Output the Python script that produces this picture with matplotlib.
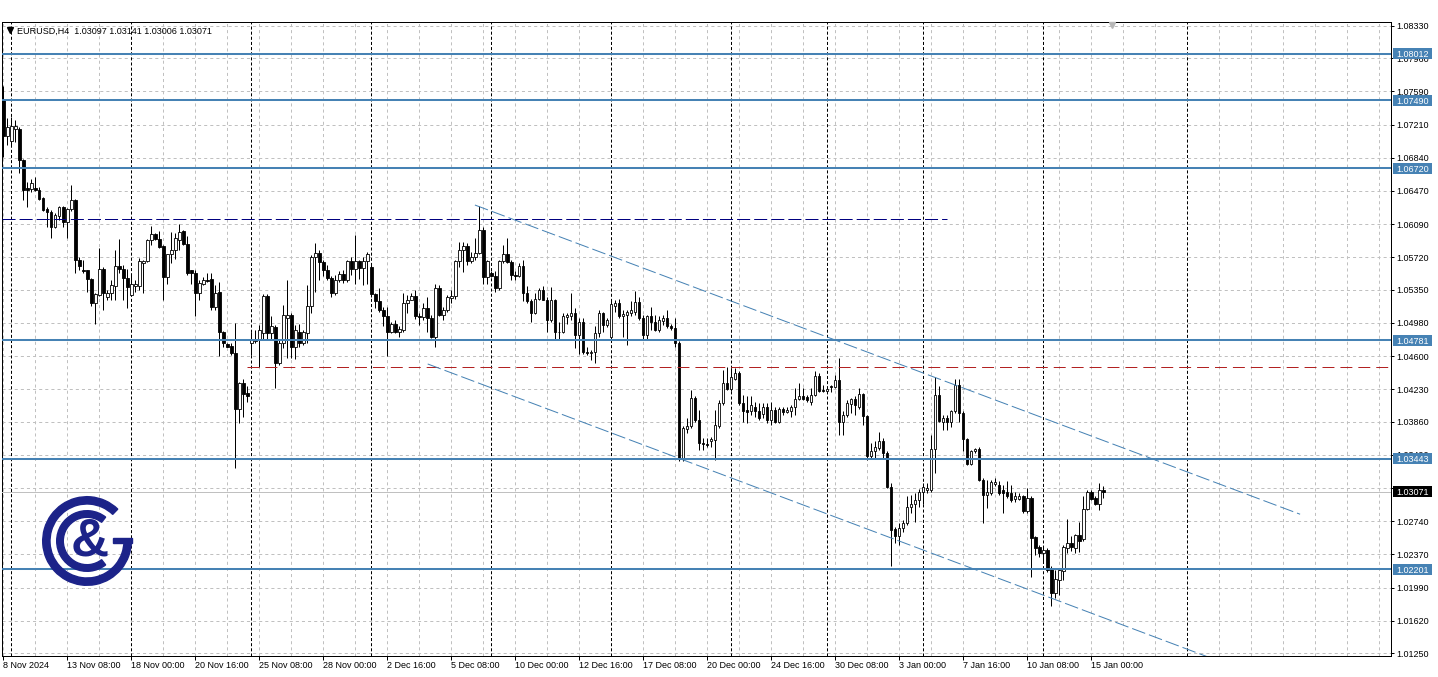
import matplotlib
matplotlib.use("Agg")
import matplotlib.pyplot as plt  # noqa: E402
import numpy as np  # noqa: E402
from matplotlib.patches import Wedge, Rectangle  # noqa: E402

# EURUSD H4 candles, 8 Nov 2024 16:00 .. 15 Jan 2025 12:00
opens = [
    1.0749, 1.0708, 1.0703, 1.0717, 1.0717, 1.0682, 1.0650, 1.0649, 1.0650, 1.0648,
    1.0639, 1.0626, 1.0623, 1.0606, 1.0618, 1.0628, 1.0612, 1.0626, 1.0636, 1.0569,
    1.0557, 1.0557, 1.0547, 1.0520, 1.0529, 1.0559, 1.0527, 1.0531, 1.0539, 1.0562,
    1.0558, 1.0548, 1.0529, 1.0539, 1.0539, 1.0565, 1.0567, 1.0591, 1.0598, 1.0592,
    1.0584, 1.0549, 1.0576, 1.0580, 1.0591, 1.0601, 1.0587, 1.0557, 1.0554, 1.0531,
    1.0542, 1.0546, 1.0547, 1.0516, 1.0533, 1.0488, 1.0474, 1.0472, 1.0464, 1.0401,
    1.0430, 1.0419, 1.0475, 1.0477, 1.0479, 1.0486, 1.0528, 1.0486, 1.0493, 1.0452,
    1.0475, 1.0503, 1.0507, 1.0471, 1.0488, 1.0475, 1.0486, 1.0517, 1.0572, 1.0577,
    1.0566, 1.0557, 1.0548, 1.0531, 1.0546, 1.0553, 1.0546, 1.0567, 1.0558, 1.0568,
    1.0560, 1.0567, 1.0561, 1.0530, 1.0522, 1.0512, 1.0505, 1.0487, 1.0497, 1.0488,
    1.0490, 1.0520, 1.0524, 1.0528, 1.0505, 1.0504, 1.0514, 1.0503, 1.0482, 1.0537,
    1.0507, 1.0512, 1.0526, 1.0528, 1.0567, 1.0580, 1.0584, 1.0567, 1.0572, 1.0577,
    1.0603, 1.0550, 1.0554, 1.0551, 1.0537, 1.0567, 1.0576, 1.0566, 1.0552, 1.0551,
    1.0562, 1.0532, 1.0522, 1.0509, 1.0525, 1.0535, 1.0524, 1.0501, 1.0524, 1.0488,
    1.0487, 1.0504, 1.0506, 1.0509, 1.0484, 1.0499, 1.0465, 1.0464, 1.0465, 1.0486,
    1.0509, 1.0495, 1.0482, 1.0517, 1.0520, 1.0505, 1.0507, 1.0509, 1.0510, 1.0521,
    1.0503, 1.0484, 1.0505, 1.0499, 1.0490, 1.0500, 1.0503, 1.0494, 1.0492, 1.0475,
    1.0345, 1.0378, 1.0381, 1.0413, 1.0388, 1.0362, 1.0361, 1.0364, 1.0366, 1.0381,
    1.0407, 1.0430, 1.0423, 1.0435, 1.0441, 1.0407, 1.0400, 1.0398, 1.0403, 1.0398,
    1.0395, 1.0403, 1.0388, 1.0400, 1.0386, 1.0401, 1.0397, 1.0398, 1.0403, 1.0412,
    1.0415, 1.0414, 1.0409, 1.0416, 1.0438, 1.0422, 1.0421, 1.0426, 1.0425, 1.0433,
    1.0386, 1.0394, 1.0406, 1.0412, 1.0403, 1.0418, 1.0393, 1.0348, 1.0353, 1.0357,
    1.0365, 1.0351, 1.0313, 1.0265, 1.0257, 1.0266, 1.0272, 1.0290, 1.0293, 1.0298,
    1.0307, 1.0309, 1.0309, 1.0355, 1.0416, 1.0386, 1.0390, 1.0386, 1.0398, 1.0428,
    1.0396, 1.0367, 1.0339, 1.0353, 1.0355, 1.0321, 1.0304, 1.0306, 1.0316, 1.0315,
    1.0309, 1.0307, 1.0306, 1.0299, 1.0299, 1.0302, 1.0285, 1.0300, 1.0256, 1.0245,
    1.0238, 1.0242, 1.0221, 1.0193, 1.0208, 1.0218, 1.0244, 1.0249, 1.0244, 1.0259,
    1.0254, 1.0288, 1.0307, 1.0300, 1.0293, 1.03097,
]
highs = [
    1.0765, 1.0729, 1.0730, 1.0727, 1.0719, 1.0683, 1.0657, 1.0660, 1.0662, 1.0651,
    1.0640, 1.0629, 1.0625, 1.0622, 1.0630, 1.0630, 1.0627, 1.0653, 1.0638, 1.0572,
    1.0569, 1.0557, 1.0548, 1.0531, 1.0582, 1.0561, 1.0535, 1.0546, 1.0580, 1.0592,
    1.0563, 1.0558, 1.0553, 1.0546, 1.0571, 1.0569, 1.0592, 1.0607, 1.0599, 1.0601,
    1.0586, 1.0576, 1.0600, 1.0599, 1.0609, 1.0602, 1.0596, 1.0557, 1.0557, 1.0546,
    1.0550, 1.0554, 1.0554, 1.0541, 1.0544, 1.0489, 1.0475, 1.0475, 1.0498, 1.0431,
    1.0435, 1.0426, 1.0488, 1.0490, 1.0495, 1.0530, 1.0530, 1.0505, 1.0495, 1.0479,
    1.0518, 1.0546, 1.0509, 1.0495, 1.0497, 1.0490, 1.0541, 1.0574, 1.0588, 1.0580,
    1.0569, 1.0563, 1.0551, 1.0552, 1.0556, 1.0557, 1.0569, 1.0572, 1.0597, 1.0569,
    1.0572, 1.0578, 1.0563, 1.0531, 1.0537, 1.0516, 1.0516, 1.0499, 1.0501, 1.0494,
    1.0531, 1.0529, 1.0531, 1.0535, 1.0509, 1.0520, 1.0527, 1.0507, 1.0542, 1.0541,
    1.0516, 1.0529, 1.0535, 1.0569, 1.0589, 1.0589, 1.0588, 1.0578, 1.0593, 1.0630,
    1.0606, 1.0569, 1.0556, 1.0556, 1.0569, 1.0586, 1.0593, 1.0569, 1.0556, 1.0565,
    1.0569, 1.0539, 1.0525, 1.0531, 1.0537, 1.0539, 1.0527, 1.0538, 1.0525, 1.0499,
    1.0509, 1.0509, 1.0531, 1.0514, 1.0503, 1.0503, 1.0471, 1.0467, 1.0494, 1.0512,
    1.0510, 1.0503, 1.0524, 1.0524, 1.0525, 1.0512, 1.0512, 1.0522, 1.0534, 1.0527,
    1.0507, 1.0507, 1.0516, 1.0507, 1.0505, 1.0507, 1.0512, 1.0497, 1.0503, 1.0477,
    1.0381, 1.0390, 1.0422, 1.0415, 1.0400, 1.0368, 1.0368, 1.0369, 1.0400, 1.0411,
    1.0445, 1.0448, 1.0447, 1.0447, 1.0443, 1.0416, 1.0415, 1.0415, 1.0409, 1.0407,
    1.0407, 1.0407, 1.0409, 1.0403, 1.0403, 1.0403, 1.0403, 1.0405, 1.0424, 1.0430,
    1.0424, 1.0416, 1.0424, 1.0444, 1.0441, 1.0428, 1.0426, 1.0428, 1.0439, 1.0458,
    1.0398, 1.0411, 1.0413, 1.0415, 1.0424, 1.0419, 1.0394, 1.0362, 1.0364, 1.0375,
    1.0368, 1.0353, 1.0317, 1.0268, 1.0272, 1.0275, 1.0303, 1.0304, 1.0306, 1.0310,
    1.0317, 1.0317, 1.0371, 1.0437, 1.0426, 1.0394, 1.0394, 1.0400, 1.0435, 1.0434,
    1.0398, 1.0368, 1.0354, 1.0357, 1.0358, 1.0323, 1.0321, 1.0320, 1.0323, 1.0319,
    1.0315, 1.0319, 1.0315, 1.0307, 1.0306, 1.0304, 1.0311, 1.0302, 1.0257, 1.0247,
    1.0245, 1.0244, 1.0223, 1.0219, 1.0221, 1.0247, 1.0277, 1.0257, 1.0260, 1.0273,
    1.0302, 1.0309, 1.0309, 1.0302, 1.0317, 1.03141,
]
lows = [
    1.0685, 1.0698, 1.0698, 1.0702, 1.0667, 1.0636, 1.0628, 1.0645, 1.0647, 1.0636,
    1.0624, 1.0606, 1.0594, 1.0605, 1.0614, 1.0606, 1.0593, 1.0624, 1.0554, 1.0557,
    1.0554, 1.0533, 1.0517, 1.0496, 1.0528, 1.0512, 1.0523, 1.0524, 1.0524, 1.0554,
    1.0523, 1.0515, 1.0528, 1.0533, 1.0535, 1.0532, 1.0566, 1.0586, 1.0591, 1.0582,
    1.0523, 1.0542, 1.0565, 1.0570, 1.0580, 1.0586, 1.0552, 1.0542, 1.0506, 1.0524,
    1.0541, 1.0544, 1.0512, 1.0512, 1.0460, 1.0471, 1.0470, 1.0462, 1.0334, 1.0385,
    1.0392, 1.0408, 1.0462, 1.0475, 1.0448, 1.0479, 1.0479, 1.0479, 1.0424, 1.0450,
    1.0469, 1.0458, 1.0458, 1.0457, 1.0471, 1.0473, 1.0475, 1.0509, 1.0533, 1.0546,
    1.0551, 1.0546, 1.0527, 1.0529, 1.0544, 1.0543, 1.0544, 1.0552, 1.0542, 1.0547,
    1.0541, 1.0542, 1.0527, 1.0514, 1.0510, 1.0494, 1.0460, 1.0486, 1.0486, 1.0482,
    1.0488, 1.0509, 1.0523, 1.0502, 1.0495, 1.0501, 1.0487, 1.0481, 1.0471, 1.0505,
    1.0501, 1.0510, 1.0520, 1.0525, 1.0561, 1.0555, 1.0563, 1.0565, 1.0569, 1.0576,
    1.0542, 1.0542, 1.0550, 1.0533, 1.0535, 1.0565, 1.0565, 1.0546, 1.0546, 1.0550,
    1.0522, 1.0520, 1.0499, 1.0508, 1.0524, 1.0523, 1.0488, 1.0499, 1.0480, 1.0480,
    1.0486, 1.0497, 1.0501, 1.0469, 1.0463, 1.0463, 1.0462, 1.0456, 1.0452, 1.0482,
    1.0488, 1.0493, 1.0480, 1.0510, 1.0503, 1.0482, 1.0473, 1.0505, 1.0507, 1.0501,
    1.0480, 1.0479, 1.0490, 1.0489, 1.0488, 1.0495, 1.0492, 1.0490, 1.0471, 1.0342,
    1.0342, 1.0373, 1.0379, 1.0386, 1.0354, 1.0354, 1.0358, 1.0358, 1.0343, 1.0379,
    1.0405, 1.0422, 1.0421, 1.0433, 1.0405, 1.0386, 1.0385, 1.0394, 1.0392, 1.0388,
    1.0390, 1.0385, 1.0383, 1.0385, 1.0385, 1.0394, 1.0396, 1.0392, 1.0394, 1.0411,
    1.0411, 1.0409, 1.0405, 1.0415, 1.0420, 1.0420, 1.0420, 1.0420, 1.0424, 1.0371,
    1.0371, 1.0392, 1.0396, 1.0394, 1.0401, 1.0383, 1.0343, 1.0345, 1.0345, 1.0354,
    1.0345, 1.0311, 1.0224, 1.0249, 1.0247, 1.0262, 1.0270, 1.0283, 1.0273, 1.0290,
    1.0294, 1.0306, 1.0307, 1.0328, 1.0386, 1.0377, 1.0377, 1.0380, 1.0396, 1.0386,
    1.0353, 1.0338, 1.0337, 1.0351, 1.0319, 1.0272, 1.0289, 1.0304, 1.0314, 1.0304,
    1.0283, 1.0300, 1.0296, 1.0296, 1.0298, 1.0283, 1.0283, 1.0211, 1.0236, 1.0234,
    1.0227, 1.0217, 1.0178, 1.0187, 1.0191, 1.0208, 1.0238, 1.0240, 1.0238, 1.0239,
    1.0252, 1.0287, 1.0298, 1.0292, 1.0287, 1.03006,
]
closes = [
    1.0708, 1.0719, 1.0720, 1.0720, 1.0682, 1.0648, 1.0648, 1.0655, 1.0648, 1.0638,
    1.0625, 1.0623, 1.0606, 1.0620, 1.0628, 1.0612, 1.0626, 1.0636, 1.0569, 1.0562,
    1.0556, 1.0547, 1.0520, 1.0530, 1.0558, 1.0531, 1.0531, 1.0541, 1.0562, 1.0558,
    1.0548, 1.0538, 1.0542, 1.0542, 1.0567, 1.0568, 1.0591, 1.0598, 1.0592, 1.0583,
    1.0549, 1.0576, 1.0580, 1.0593, 1.0600, 1.0587, 1.0554, 1.0554, 1.0531, 1.0543,
    1.0546, 1.0545, 1.0516, 1.0532, 1.0487, 1.0475, 1.0471, 1.0464, 1.0401, 1.0430,
    1.0418, 1.0415, 1.0479, 1.0480, 1.0490, 1.0528, 1.0486, 1.0494, 1.0452, 1.0475,
    1.0507, 1.0507, 1.0471, 1.0490, 1.0475, 1.0487, 1.0517, 1.0572, 1.0577, 1.0566,
    1.0557, 1.0548, 1.0531, 1.0546, 1.0553, 1.0546, 1.0567, 1.0558, 1.0568, 1.0560,
    1.0567, 1.0576, 1.0530, 1.0522, 1.0512, 1.0505, 1.0487, 1.0497, 1.0488, 1.0491,
    1.0520, 1.0524, 1.0528, 1.0505, 1.0504, 1.0514, 1.0503, 1.0482, 1.0537, 1.0507,
    1.0512, 1.0527, 1.0528, 1.0567, 1.0580, 1.0584, 1.0567, 1.0572, 1.0577, 1.0603,
    1.0550, 1.0567, 1.0551, 1.0537, 1.0567, 1.0576, 1.0566, 1.0552, 1.0551, 1.0562,
    1.0532, 1.0522, 1.0509, 1.0525, 1.0535, 1.0524, 1.0501, 1.0524, 1.0488, 1.0487,
    1.0505, 1.0507, 1.0509, 1.0484, 1.0499, 1.0465, 1.0464, 1.0465, 1.0486, 1.0509,
    1.0495, 1.0501, 1.0519, 1.0520, 1.0505, 1.0508, 1.0510, 1.0512, 1.0521, 1.0503,
    1.0484, 1.0505, 1.0499, 1.0490, 1.0501, 1.0503, 1.0494, 1.0492, 1.0475, 1.0345,
    1.0379, 1.0381, 1.0413, 1.0388, 1.0362, 1.0361, 1.0360, 1.0367, 1.0383, 1.0407,
    1.0430, 1.0423, 1.0437, 1.0441, 1.0407, 1.0398, 1.0397, 1.0405, 1.0398, 1.0390,
    1.0403, 1.0388, 1.0400, 1.0386, 1.0401, 1.0397, 1.0400, 1.0403, 1.0412, 1.0415,
    1.0412, 1.0411, 1.0416, 1.0438, 1.0421, 1.0421, 1.0423, 1.0425, 1.0433, 1.0386,
    1.0394, 1.0407, 1.0412, 1.0405, 1.0418, 1.0393, 1.0348, 1.0353, 1.0358, 1.0365,
    1.0351, 1.0313, 1.0264, 1.0257, 1.0266, 1.0272, 1.0290, 1.0293, 1.0298, 1.0307,
    1.0313, 1.0312, 1.0355, 1.0416, 1.0387, 1.0390, 1.0386, 1.0398, 1.0428, 1.0396,
    1.0367, 1.0339, 1.0353, 1.0355, 1.0321, 1.0304, 1.0307, 1.0318, 1.0318, 1.0306,
    1.0306, 1.0302, 1.0298, 1.0302, 1.0303, 1.0285, 1.0300, 1.0255, 1.0244, 1.0238,
    1.0242, 1.0219, 1.0193, 1.0209, 1.0219, 1.0245, 1.0249, 1.0245, 1.0259, 1.0252,
    1.0288, 1.0307, 1.0299, 1.0293, 1.0309, 1.03071,
]

date_labels = ["8 Nov 2024", "13 Nov 08:00", "18 Nov 00:00", "20 Nov 16:00",
               "25 Nov 08:00", "28 Nov 00:00", "2 Dec 16:00", "5 Dec 08:00",
               "10 Dec 00:00", "12 Dec 16:00", "17 Dec 08:00", "20 Dec 00:00",
               "24 Dec 16:00", "30 Dec 08:00", "3 Jan 00:00", "7 Jan 16:00",
               "10 Jan 08:00", "15 Jan 00:00"]
week_starts = [2, 32, 62, 92, 122, 152, 182, 206, 230, 260, 296]  # bar index of Monday 00:00
price_ticks = [1.08330, 1.07960, 1.07590, 1.07210, 1.06840, 1.06470, 1.06090,
               1.05720, 1.05350, 1.04980, 1.04600, 1.04230, 1.03860, 1.03490,
               1.03110, 1.02740, 1.02370, 1.01990, 1.01620, 1.01250]
levels = [1.08012, 1.07490, 1.06720, 1.04781, 1.03443, 1.02201]
last_price = 1.03071
header = "EURUSD,H4  1.03097 1.03141 1.03006 1.03071"
high_line = 1.06146     # dashed navy
mid_line = 1.04480      # dashed red
chan_upper = ([117.9, 324.2], [1.06307, 1.02819])
chan_lower = ([106.1, 324.2], [1.04514, 1.00819])

STEEL = "#4682B4"
NAVY = "#1C2389"
GRID = "#C0C0C0"

plt.rcParams["font.family"] = ["Liberation Sans", "DejaVu Sans"]
plt.rcParams["lines.scale_dashes"] = False

W, H = 1438, 677
fig = plt.figure(figsize=(W / 100, H / 100), dpi=100)
ax = fig.add_axes([2.3 / W, 21 / H, (1390.7 - 2.3) / W, (656 - 22.3) / H])
ax.set_xlim(-0.25, 346.85)
ax.set_ylim(1.01220, 1.08368)

# grid: light dashed every 8 bars / price tick, dark dashed week separators
for t in price_ticks:
    ax.axhline(t, color=GRID, lw=0.72, ls=(0, (2.2, 2.2)), zorder=0)
for v in range(0, 347, 8):
    if v not in week_starts:
        ax.axvline(v, color=GRID, lw=0.72, ls=(0, (2.2, 2.2)), zorder=0)
for v in week_starts:
    ax.axvline(v, color="black", lw=0.72, ls=(0, (2.2, 1.5)), zorder=0.5)

# candles
o = np.array(opens)
c = np.array(closes)
x = np.arange(len(c))
ax.vlines(x, lows, highs, color="black", lw=0.72, zorder=4)
body_lo = np.minimum(o, c)
body_h = np.maximum(np.abs(c - o), 0.00002)
ax.bar(x, body_h, bottom=body_lo, width=0.6,
       color=np.where(c >= o, "white", "black"), edgecolor="black", lw=0.6, zorder=5)

# analysis objects
ax.axhline(last_price, color=GRID, lw=0.72, zorder=3)
for lv in levels:
    ax.axhline(lv, color=STEEL, lw=1.45, zorder=6)
ax.plot([-0.25, 235.9], [high_line, high_line], color="#000080", lw=0.72,
        ls=(0, (9.4, 2.9)), zorder=6)
ax.plot([60.85, 346.85], [mid_line, mid_line], color="#B22222", lw=0.72,
        ls=(0, (8.6, 4.3)), zorder=6)
for xs, ys in (chan_upper, chan_lower):
    ax.plot(xs, ys, color=STEEL, lw=0.72, ls=(0, (10, 2.9)), zorder=6)

# axes and ticks
for sp in ax.spines.values():
    sp.set_linewidth(0.72)
ax.yaxis.tick_right()
ax.set_yticks(price_ticks)
ax.set_yticklabels([f"{t:.5f}" for t in price_ticks])
ax.tick_params(axis="y", direction="out", length=2.2, width=0.72, pad=2.2, labelsize=6.5)
ax.set_xticks(np.arange(len(date_labels)) * 16)
ax.set_xticklabels(date_labels, ha="left")
ax.tick_params(axis="x", direction="out", length=2.9, width=0.72, pad=0.8, labelsize=6.5)

# overlay in pixel units for labels and logo
ov = fig.add_axes([0, 0, 1, 1])
ov.set_xlim(0, W)
ov.set_ylim(0, H)
ov.axis("off")


def label_box(price, bg):
    yd = ax.transData.transform((0, price))[1]
    ov.add_patch(Rectangle((1392.7, yd - 5.5), 39.6, 11, facecolor=bg, edgecolor="none"))
    ov.text(1396.5, yd, f"{price:.5f}", color="white", fontsize=6.5,
            va="center_baseline", ha="left")


for lv in levels:
    label_box(lv, STEEL)
label_box(last_price, "black")

ov.plot(9.5, H - 30, marker="v", ms=4, color="black")
ov.text(17, H - 30, header, fontsize=6.5, va="center_baseline", ha="left")
ov.plot(1111.7, H - 25, marker="v", ms=5, color="#B8B8B8")

# C&G logo
cx, cy = 87, H - 541
ov.add_patch(Wedge((cx, cy), 44.3, 46, 360, width=7.3, color=NAVY))
ov.add_patch(Rectangle((112.5, H - 543.3), 19.2, 5.3, color=NAVY))
ov.add_patch(Wedge((cx, cy), 30.3, 52, 308, width=6.6, color=NAVY))
ov.text(90, cy - 0.5, "&", fontsize=38, fontweight="bold", color=NAVY,
        ha="center", va="center")

fig.savefig("out.png", dpi=100)
plt.close(fig)
